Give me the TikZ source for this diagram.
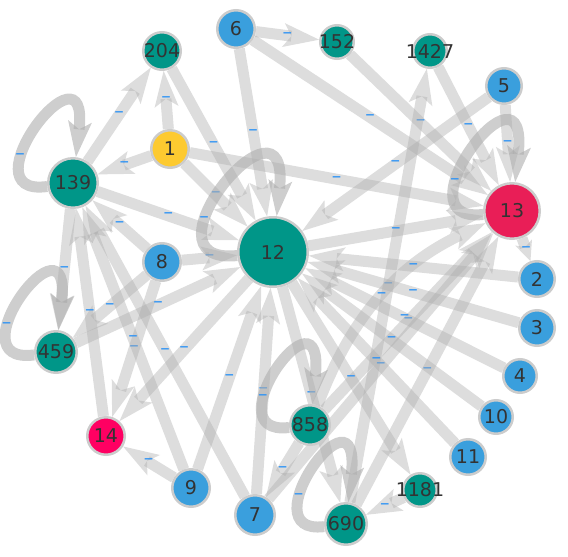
\documentclass[tikz,border=0pt]{standalone}
\usepackage{fontspec}
\setmainfont{DejaVu Sans}
\usepackage{xcolor}
\usepackage{tikz}
\usetikzlibrary{arrows.meta,backgrounds}
\definecolor{tealv}{HTML}{009688}
\definecolor{bluev}{HTML}{3A9FDD}
\definecolor{yellowv}{HTML}{FDCA30}
\definecolor{redv}{HTML}{E91E57}
\definecolor{pinkv}{HTML}{FF0062}
\definecolor{dashv}{HTML}{2F93F5}
\definecolor{txtv}{HTML}{333333}
\tikzset{
  vx/.style={circle, draw=black!20, line width=2.5pt, inner sep=0pt, text=txtv,
    font=\fontsize{19}{19}\selectfont,
    execute at begin node={\hbox to 0pt\bgroup\hss},
    execute at end node={\hss\egroup}},
  tv/.style={vx, fill=tealv},
  bv/.style={vx, fill=bluev},
  yv/.style={vx, fill=yellowv},
  rv/.style={vx, fill=redv},
  pv/.style={vx, fill=pinkv},
  ed/.style={draw=black!32, opacity=0.42, line width=11pt,
    -{Stealth[length=36pt, width=24pt, inset=8pt, line width=0pt]}},
  eds/.style={ed, -{Stealth[length=20pt, width=18pt, inset=5pt, line width=0pt]}},
  lp/.style={ed, opacity=0.6},
  lb/.style={text=dashv, opacity=1, text opacity=1, inner sep=0pt,
    font=\fontsize{19}{19}\selectfont}
}

\begin{document}
\begin{tikzpicture}[x=1pt, y=1pt]
  \useasboundingbox (0,0) rectangle (568,-557);
  \node[bv, minimum size=37.5pt] (n6) at (236,-29) {6};
  \node[tv, minimum size=33.5pt] (n152) at (337,-42) {152};
  \node[tv, minimum size=33.5pt] (n1427) at (430,-51) {1427};
  \node[tv, minimum size=37.5pt] (n204) at (162,-51) {204};
  \node[bv, minimum size=35.5pt] (n5) at (504,-86) {5};
  \node[yv, minimum size=37.5pt] (n1) at (170,-149) {1};
  \node[tv, minimum size=49.5pt] (n139) at (73,-183) {139};
  \node[rv, minimum size=55.5pt] (n13) at (512,-211) {13};
  \node[tv, minimum size=69.5pt] (n12) at (273,-252) {12};
  \node[bv, minimum size=37.5pt] (n8) at (162,-262) {8};
  \node[bv, minimum size=35.5pt] (n2) at (537,-279) {2};
  \node[tv, minimum size=41.5pt] (n459) at (56,-352) {459};
  \node[bv, minimum size=35.5pt] (n3) at (537,-328) {3};
  \node[bv, minimum size=33.5pt] (n4) at (520,-376) {4};
  \node[pv, minimum size=37.5pt] (n14) at (106,-436) {14};
  \node[bv, minimum size=33.5pt] (n10) at (496,-417) {10};
  \node[tv, minimum size=39.5pt] (n858) at (310,-425) {858};
  \node[bv, minimum size=35.5pt] (n11) at (468,-457) {11};
  \node[bv, minimum size=37.5pt] (n9) at (191,-488) {9};
  \node[tv, minimum size=33.5pt] (n1181) at (420,-490) {1181};
  \node[bv, minimum size=39.5pt] (n7) at (255,-515) {7};
  \node[tv, minimum size=41.5pt] (n690) at (346,-524) {690};

  \begin{scope}[on background layer]
  \draw[ed] (n6) -- node[lb]{--} (n152);
  \draw[ed] (n6) -- node[lb]{--} (n12);
  \draw[ed] (n6) -- node[lb]{--} (n13);
  \draw[ed] (n152) -- node[lb]{--} (n13);
  \draw[ed] (n1427) -- node[lb]{--} (n13);
  \draw[ed] (n5) -- node[lb]{--} (n13);
  \draw[ed] (n5) -- node[lb]{--} (n12);
  \draw[ed] (n690) -- node[lb]{--} (n1427);
  \draw[ed] (n204) -- node[lb]{--} (n12);
  \draw[ed] (n1) -- node[lb]{--} (n204);
  \draw[ed] (n139) -- node[lb]{--} (n204);
  \draw[ed] (n1) -- node[lb]{--} (n139);
  \draw[ed] (n1) -- node[lb]{--} (n12);
  \draw[ed] (n1) -- node[lb]{--} (n13);
  \draw[ed] (n139) -- node[lb]{--} (n12);
  \draw[ed] (n12) -- node[lb]{--} (n13);
  \draw[ed] (n8) -- node[lb]{--} (n139);
  \draw[ed] (n8) -- node[lb]{--} (n12);
  \draw[ed] (n8) -- node[lb]{--} (n459);
  \draw[ed] (n8) -- node[lb]{--} (n14);
  \draw[ed] (n139) -- node[lb]{--} (n459);
  \draw[ed] (n459) -- node[lb]{--} (n12);
  \draw[ed] (n14) -- node[lb]{--} (n139);
  \draw[ed] (n9) -- node[lb]{--} (n139);
  \draw[ed] (n7) -- node[lb]{--} (n139);
  \draw[ed] (n12) -- node[lb]{--} (n14);
  \draw[ed] (n9) -- node[lb]{--} (n14);
  \draw[ed] (n9) -- node[lb]{--} (n12);
  \draw[ed] (n7) -- node[lb]{--} (n12);
  \draw[ed] (n7) -- node[lb]{--} (n13);
  \draw[ed] (n858) -- node[lb]{--} (n7);
  \draw[ed] (n858) -- node[lb]{--} (n13);
  \draw[ed] (n858) to[bend left=22] node[lb]{--} (n13);
  \draw[ed] (n12) -- node[lb]{--} (n690);
  \draw[ed] (n12) -- node[lb]{--} (n1181);
  \draw[ed] (n690) -- node[lb]{--} (n13);
  \draw[ed] (n1181) -- node[lb]{--} (n690);
  \draw[eds] (n13) -- node[lb]{--} (n2);
  \draw[ed] (n2) -- node[lb]{--} (n12);
  \draw[ed] (n3) -- node[lb]{--} (n12);
  \draw[ed] (n4) -- node[lb]{--} (n12);
  \draw[ed] (n10) -- node[lb]{--} (n12);
  \draw[ed] (n11) -- node[lb]{--} (n12);
  % self loops
  \draw[lp] (n139) .. controls +(-110,-15) and +(17,150) .. (n139) node[lb, pos=.33]{--};
  \draw[lp] (n459) .. controls +(-105,-14) and +(17,148) .. (n459) node[lb, pos=.33]{--};
  \draw[lp] (n12) .. controls +(-140,-14) and +(18,175) .. (n12) node[lb, pos=.33]{--};
  \draw[lp] (n13) .. controls +(-118,-14) and +(18,165) .. (n13) node[lb, pos=.33]{--};
  \draw[lp] (n858) .. controls +(-100,-12) and +(16,148) .. (n858) node[lb, pos=.33]{--};
  \draw[lp] (n690) .. controls +(-100,-12) and +(16,148) .. (n690) node[lb, pos=.33]{--};
  \end{scope}
\end{tikzpicture}
\end{document}
